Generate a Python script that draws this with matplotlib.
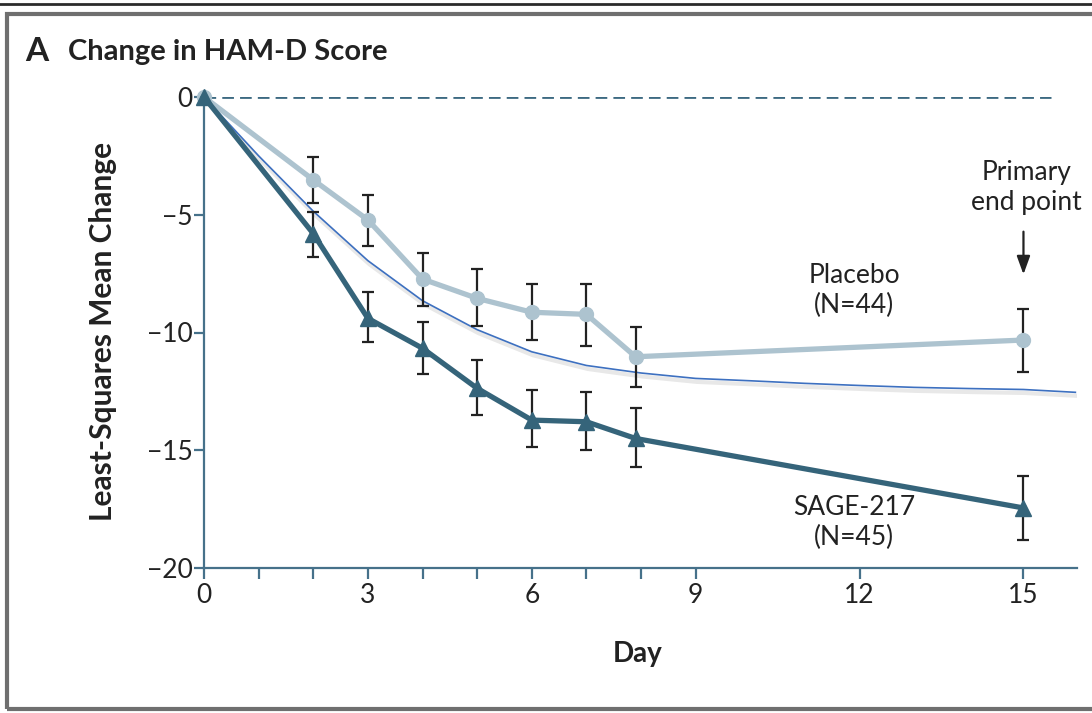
import matplotlib
matplotlib.use("Agg")
import matplotlib.pyplot as plt
import matplotlib.patheffects as pe
from matplotlib.lines import Line2D
from matplotlib.patches import Rectangle

plt.rcParams['font.family'] = ['Lato', 'DejaVu Sans']

# data
days = [0, 2, 3, 4, 5, 6, 7, 7.9, 15]
placebo = [0, -3.52, -5.22, -7.73, -8.55, -9.14, -9.23, -11.03, -10.32]
placebo_lo = [0, 1.0, 1.09, 1.14, 1.17, 1.18, 1.33, 1.27, 1.34]
placebo_hi = [0, 0.96, 1.06, 1.12, 1.23, 1.2, 1.29, 1.28, 1.3]
sage = [0, -5.8, -9.4, -10.67, -12.37, -13.72, -13.79, -14.5, -17.45]
sage_lo = [0, 0.98, 0.99, 1.09, 1.13, 1.13, 1.21, 1.2, 1.35]
sage_hi = [0, 0.93, 1.13, 1.13, 1.2, 1.28, 1.28, 1.28, 1.35]

curve_days = [0, 1, 2, 3, 4, 5, 6, 7, 8, 9, 10, 11, 12, 13, 14, 15, 15.95]
curve_vals = [0, -2.5, -4.85, -6.95, -8.65, -9.88, -10.82, -11.4, -11.72,
              -11.95, -12.05, -12.16, -12.25, -12.33, -12.38, -12.42, -12.54]

tick_days = [0, 1, 2, 3, 4, 5, 6, 7, 8, 9, 12, 15]
labelled_days = [0, 3, 6, 9, 12, 15]
y_ticks = [0, -5, -10, -15, -20]

light = '#adc3cf'
dark = '#35647a'
axis_col = '#46718a'
bar_col = '#222222'
curve_col = '#3d70c0'

fig = plt.figure(figsize=(10.92, 7.13), dpi=100)
ax = fig.add_axes([204 / 1092, 1 - 568 / 713, (1077 - 204) / 1092, (568 - 97) / 713])

ax.axhline(0, xmin=0, xmax=15.5 / 15.98, color='#3d6a82', lw=2.0,
           linestyle=(0, (4.2, 2.2)), zorder=1)

ax.plot(curve_days, curve_vals, color=curve_col, lw=1.2, zorder=2,
        path_effects=[pe.SimpleLineShadow(offset=(1, -2.5), shadow_color='0.5',
                                          alpha=0.18, linewidth=3),
                      pe.Normal()])

ax.errorbar(days[1:], placebo[1:], yerr=[placebo_lo[1:], placebo_hi[1:]], fmt='none',
            ecolor=bar_col, elinewidth=1.6, capsize=4, capthick=1.6, zorder=3)
ax.errorbar(days[1:], sage[1:], yerr=[sage_lo[1:], sage_hi[1:]], fmt='none',
            ecolor=bar_col, elinewidth=1.6, capsize=4, capthick=1.6, zorder=3)

ax.plot(days, placebo, color=light, lw=3.8, marker='o', ms=10, zorder=4, clip_on=False)
ax.plot(days, sage, color=dark, lw=3.8, marker='^', ms=11, zorder=5, clip_on=False)

ax.set_xlim(0, 15.98)
ax.set_ylim(-20, 0)
for s in ['top', 'right']:
    ax.spines[s].set_visible(False)
for s in ['left', 'bottom']:
    ax.spines[s].set_color(axis_col)
    ax.spines[s].set_linewidth(1.6)

ax.set_xticks(tick_days)
ax.set_xticklabels([str(d) if d in labelled_days else '' for d in tick_days])
ax.set_yticks(y_ticks)
ax.set_yticklabels([f'\u2212{abs(v)}' if v else '0' for v in y_ticks])
ax.tick_params(axis='x', direction='out', length=8, width=1.6, color=axis_col,
               labelsize=19, labelcolor='#222222', pad=3)
ax.tick_params(axis='y', direction='out', length=7, width=1.6, color=axis_col,
               labelsize=19, labelcolor='#222222', pad=1)

txt = dict(fontsize=19, color='#222222', ha='center', va='center', linespacing=1.25)
ax.text(11.9, -8.2, 'Placebo\n(N=44)', **txt)
ax.text(11.9, -18.05, 'SAGE-217\n(N=45)', **txt)
ax.text(15.05, -3.85, 'Primary\nend point', **txt)
ax.annotate('', xy=(15, -7.65), xytext=(15, -5.6),
            arrowprops=dict(arrowstyle='-|>,head_length=0.55,head_width=0.2',
                            color='#222222', lw=1.6, mutation_scale=20))

fig.text(25 / 1092, 1 - 61 / 713, 'A', fontsize=24, fontweight='bold', color='#222222')
fig.text(68 / 1092, 1 - 60 / 713, 'Change in HAM-D Score', fontsize=21,
         fontweight='bold', color='#222222')
fig.text(103 / 1092, 1 - 331 / 713, 'Least-Squares Mean Change', fontsize=21.5,
         fontweight='bold', color='#222222', rotation=90, ha='center', va='center')
fig.text(638 / 1092, 1 - 654 / 713, 'Day', fontsize=20, fontweight='bold',
         color='#222222', ha='center', va='center')

# page frame
fig.add_artist(Line2D([0, 1], [1 - 4 / 713] * 2, color='#2b2b2b', lw=2,
                      transform=fig.transFigure))
fig.add_artist(Rectangle((7 / 1092, 1 - 709 / 713), 1.05, (709 - 14) / 713, fill=False,
                         edgecolor='#6f6f6f', lw=3, transform=fig.transFigure))

fig.savefig('out.png', dpi=100)
